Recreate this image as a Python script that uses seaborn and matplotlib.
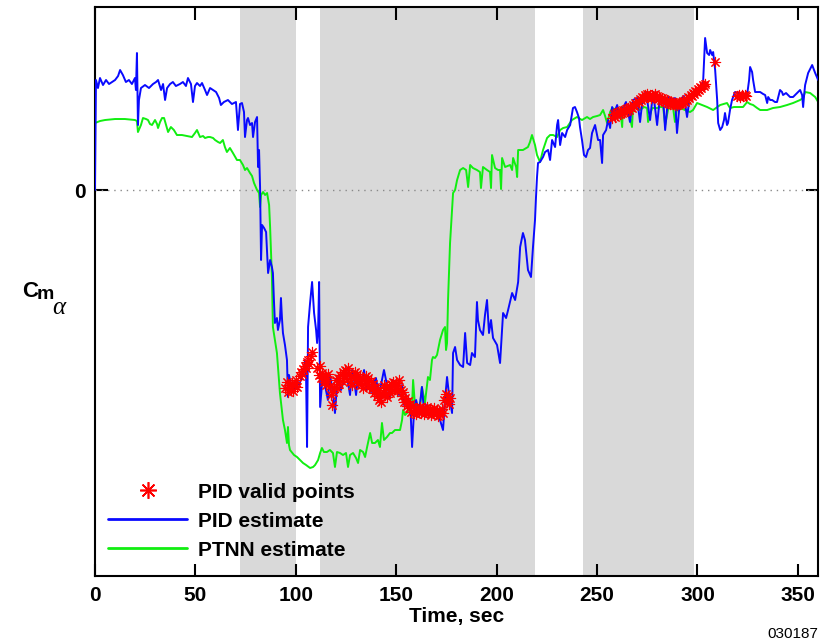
import numpy as np
import pandas as pd
import matplotlib
matplotlib.use("Agg")
import matplotlib.pyplot as plt
from matplotlib.lines import Line2D
import seaborn as sns

# ---------------- data ----------------
pid_t = [0.0, 0.5, 1.5, 2.5, 4.0, 5.5, 7.0, 8.5, 10.0, 11.5, 12.5, 13.9, 15.4, 16.9, 18.4, 19.9, 20.4, 20.9, 21.4, 21.9,
         22.9, 24.9, 26.9, 28.9, 30.4, 31.4, 32.9, 33.9, 34.9, 35.9, 37.4, 38.8, 40.3, 42.3, 43.8, 45.3, 46.3, 47.8, 48.8, 49.8,
         50.8, 52.3, 53.3, 54.8, 55.8, 57.3, 58.8, 60.3, 61.8, 62.7, 64.2, 66.2, 68.2, 70.2, 71.2, 72.2, 73.2, 74.2, 74.7, 75.7,
         76.2, 77.2, 78.2, 78.7, 79.7, 80.7, 81.2, 81.7, 82.2, 82.7, 83.2, 84.2, 85.2, 86.2, 87.2, 88.1, 88.6, 89.1, 89.6, 90.6,
         91.1, 92.1, 92.6, 93.1, 93.6, 94.6, 95.6, 96.1, 96.6, 97.6, 99.1, 100.6, 101.6, 103.1, 104.1, 104.6, 105.1, 105.6, 106.1, 107.1,
         108.1, 109.1, 110.1, 110.6, 111.1, 111.6, 112.1, 113.0, 113.5, 115.0, 116.0, 117.0, 118.5, 119.5, 120.5, 121.0, 122.5, 124.0, 125.0, 126.0,
         127.0, 128.0, 129.0, 130.0, 131.0, 132.5, 134.0, 135.0, 136.0, 137.5, 138.9, 139.9, 141.4, 142.9, 143.9, 145.4, 146.9, 148.4, 149.9, 151.4,
         152.9, 153.9, 154.9, 155.9, 156.9, 157.9, 158.9, 159.9, 161.4, 162.8, 163.8, 165.3, 166.8, 168.3, 170.3, 171.8, 173.3, 174.3, 175.3, 176.3,
         177.8, 178.3, 179.3, 180.3, 181.8, 183.3, 184.3, 185.3, 186.8, 187.7, 189.2, 190.2, 190.7, 191.7, 193.2, 194.2, 195.2, 196.2, 197.2, 198.2,
         200.2, 201.7, 203.2, 204.7, 205.7, 207.7, 209.2, 210.7, 211.7, 213.1, 214.1, 215.6, 217.1, 218.1, 219.1, 219.6, 220.1, 220.6, 221.6, 223.1,
         224.1, 225.6, 226.6, 227.6, 229.1, 230.1, 230.6, 231.6, 232.6, 234.1, 235.1, 236.6, 238.0, 239.0, 240.0, 241.0, 241.5, 242.5, 243.5, 244.5,
         245.5, 246.5, 247.5, 249.0, 250.5, 251.5, 252.5, 253.0, 254.5, 255.5, 256.5, 257.5, 258.5, 260.0, 261.5, 262.9, 264.4, 266.4, 267.9, 269.9,
         271.4, 272.9, 274.4, 276.4, 277.9, 279.9, 281.4, 282.9, 283.9, 285.4, 287.3, 288.8, 289.8, 291.3, 293.3, 294.8, 296.3, 297.8, 299.8, 301.3,
         302.8, 303.8, 304.8, 305.8, 306.3, 307.3, 307.8, 308.8, 309.8, 310.3, 311.3, 312.3, 313.2, 313.7, 314.7, 315.2, 316.2, 317.2, 318.7, 320.2,
         321.2, 323.2, 324.7, 325.7, 326.2, 327.2, 327.7, 328.7, 330.2, 331.2, 332.7, 333.7, 334.7, 335.2, 336.2, 337.2, 338.6, 339.6, 341.1, 342.1,
         342.6, 344.1, 345.1, 346.1, 347.6, 348.6, 349.6, 351.1, 352.1, 352.6, 353.1, 353.6, 355.1, 357.1, 358.6, 360.1]
pid_y = [0.00, 1.10, 1.02, 1.12, 1.05, 1.10, 1.06, 1.08, 1.10, 1.14, 1.20, 1.15, 1.08, 1.10, 1.06, 1.12, 1.00, 1.37, 0.65, 0.90,
         1.02, 1.05, 1.02, 1.06, 1.08, 1.10, 1.00, 1.06, 0.90, 1.02, 1.06, 1.08, 1.04, 1.06, 1.08, 1.04, 1.12, 1.06, 0.88, 1.04,
         1.07, 1.04, 1.07, 1.00, 0.95, 1.02, 1.00, 0.98, 0.92, 0.85, 0.88, 0.90, 0.86, 0.88, 0.60, 0.86, 0.87, 0.78, 0.53, 0.70,
         0.72, 0.65, 0.67, 0.53, 0.68, 0.73, 0.23, 0.40, 0.03, -0.70, -0.35, -0.38, -0.42, -0.83, -0.70, -0.77, -0.83, -1.10, -1.33, -1.28,
         -1.40, -1.30, -1.08, -1.28, -1.43, -1.55, -1.70, -2.07, -1.85, -1.95, -2.00, -1.90, -1.95, -1.87, -1.80, -1.70, -1.85, -2.57, -1.37, -1.13,
         -0.92, -1.23, -1.40, -1.53, -1.40, -0.92, -2.17, -1.95, -1.87, -2.00, -2.10, -1.85, -2.03, -2.23, -1.95, -1.87, -2.00, -1.90, -1.78, -1.93,
         -2.05, -1.80, -1.90, -2.05, -1.85, -1.95, -1.80, -2.00, -1.88, -2.02, -1.93, -1.88, -2.05, -1.90, -1.80, -1.95, -2.08, -1.90, -2.00, -2.05,
         -1.95, -2.15, -2.05, -2.18, -2.10, -2.57, -2.20, -2.10, -2.22, -1.97, -2.20, -2.15, -2.20, -2.20, -2.23, -2.30, -2.40, -2.10, -1.87, -2.05,
         -2.23, -1.63, -1.57, -1.70, -1.75, -1.77, -1.43, -1.73, -1.75, -1.63, -1.67, -1.12, -1.30, -1.40, -1.45, -1.25, -1.10, -1.43, -1.30, -1.48,
         -1.55, -1.73, -1.23, -1.28, -1.20, -1.03, -1.10, -0.92, -0.57, -0.43, -0.50, -0.80, -0.87, -0.57, -0.30, -0.07, 0.13, 0.27, 0.28, 0.33,
         0.38, 0.40, 0.30, 0.50, 0.43, 0.65, 0.70, 0.45, 0.57, 0.53, 0.60, 0.65, 0.82, 0.83, 0.78, 0.72, 0.63, 0.50, 0.35, 0.33,
         0.40, 0.42, 0.57, 0.65, 0.50, 0.50, 0.27, 0.55, 0.60, 0.70, 0.62, 0.83, 0.77, 0.85, 0.72, 0.82, 0.88, 0.68, 0.90, 0.92,
         0.68, 0.95, 0.98, 0.70, 0.98, 0.65, 0.95, 0.92, 0.60, 0.93, 0.90, 0.92, 0.57, 0.90, 0.94, 0.73, 0.95, 0.93, 0.98, 1.00,
         1.08, 1.52, 1.37, 1.35, 1.40, 1.35, 1.38, 1.20, 0.90, 0.67, 0.60, 0.63, 0.70, 0.77, 0.65, 0.67, 0.80, 0.90, 0.98, 0.97,
         0.97, 0.95, 0.95, 1.10, 1.23, 1.18, 1.10, 0.98, 0.98, 0.98, 0.96, 0.95, 0.87, 0.93, 0.90, 0.90, 0.88, 0.88, 1.00, 0.98,
         0.95, 0.97, 0.95, 0.93, 0.93, 0.95, 0.97, 1.00, 0.95, 0.83, 0.95, 1.05, 1.17, 1.25, 1.17, 1.10]

ptnn_t = [0.0, 2.5, 5.0, 10.0, 14.9, 19.9, 20.9, 21.4, 22.9, 23.9, 25.4, 26.4, 27.4, 28.4, 29.9, 30.9, 31.4, 32.4, 33.4, 34.4,
          35.4, 36.4, 37.8, 39.3, 40.8, 43.3, 45.8, 48.3, 49.8, 50.8, 52.3, 53.8, 54.8, 56.3, 57.3, 58.8, 59.8, 61.3, 62.3, 63.7,
          64.7, 65.7, 67.2, 68.7, 70.7, 72.2, 73.7, 74.7, 75.7, 77.2, 78.2, 79.2, 80.7, 81.7, 82.2, 82.7, 83.7, 84.7, 85.7, 86.7,
          87.2, 88.1, 88.6, 89.6, 90.6, 92.1, 93.6, 94.6, 95.6, 96.1, 96.6, 97.1, 99.1, 100.6, 102.1, 103.6, 105.1, 107.1, 108.6, 109.6,
          111.1, 112.1, 113.0, 114.0, 115.5, 117.0, 118.5, 119.5, 120.5, 122.0, 123.5, 125.0, 126.0, 127.0, 128.5, 130.0, 131.0, 132.0, 133.5, 134.5,
          135.5, 137.0, 138.0, 139.4, 140.9, 141.9, 142.9, 143.9, 145.4, 146.9, 147.9, 149.4, 150.9, 151.9, 152.9, 153.4, 154.4, 155.4, 156.9, 157.9,
          158.4, 159.4, 160.9, 161.9, 162.8, 164.3, 165.8, 166.8, 167.8, 168.3, 169.3, 170.3, 171.8, 173.3, 174.3, 174.8, 175.3, 175.8, 176.8, 177.8,
          178.3, 179.3, 180.3, 181.8, 183.3, 184.8, 185.8, 186.8, 188.2, 190.2, 191.7, 192.2, 193.2, 195.2, 196.7, 197.2, 197.7, 199.2, 200.7, 201.7,
          202.2, 202.7, 204.2, 206.7, 207.7, 208.2, 209.7, 210.2, 210.7, 213.1, 215.6, 216.6, 217.6, 219.1, 220.1, 221.6, 223.1, 225.1, 226.6, 228.1,
          230.1, 231.6, 233.1, 235.1, 237.5, 240.0, 242.5, 245.0, 246.5, 248.0, 250.0, 251.5, 253.0, 254.0, 255.0, 256.5, 257.5, 260.0, 261.5, 262.5,
          262.9, 265.4, 267.4, 267.9, 269.9, 271.4, 273.4, 274.9, 275.4, 277.4, 279.9, 281.4, 282.9, 283.9, 285.4, 287.8, 288.8, 289.8, 291.3, 293.8,
          296.3, 297.8, 299.8, 302.3, 304.8, 307.8, 311.3, 314.7, 316.2, 318.2, 319.7, 322.7, 324.7, 326.2, 327.7, 329.7, 331.2, 334.7, 337.6, 341.1,
          344.6, 347.6, 351.1, 352.6, 353.6, 356.1, 358.6, 360.1]
ptnn_y = [0.67, 0.69, 0.70, 0.71, 0.71, 0.70, 0.69, 0.58, 0.65, 0.72, 0.71, 0.70, 0.66, 0.65, 0.70, 0.66, 0.62, 0.68, 0.72, 0.72,
          0.65, 0.58, 0.63, 0.60, 0.55, 0.55, 0.54, 0.53, 0.57, 0.60, 0.53, 0.54, 0.52, 0.53, 0.53, 0.52, 0.50, 0.48, 0.47, 0.50,
          0.43, 0.38, 0.42, 0.37, 0.30, 0.30, 0.25, 0.20, 0.22, 0.17, 0.14, 0.07, 0.00, -0.03, -0.17, -0.05, -0.02, -0.05, -0.03, -0.15,
          -0.37, -0.87, -1.37, -1.50, -1.63, -2.03, -2.30, -2.40, -2.53, -2.37, -2.55, -2.60, -2.65, -2.67, -2.70, -2.73, -2.75, -2.78, -2.77, -2.75,
          -2.70, -2.63, -2.58, -2.62, -2.62, -2.60, -2.63, -2.77, -2.62, -2.63, -2.65, -2.63, -2.77, -2.65, -2.63, -2.68, -2.73, -2.60, -2.62, -2.67,
          -2.57, -2.43, -2.53, -2.53, -2.50, -2.57, -2.33, -2.50, -2.47, -2.43, -2.43, -2.40, -2.40, -2.40, -2.30, -2.20, -2.25, -2.23, -2.17, -2.15,
          -1.90, -2.17, -2.15, -2.15, -1.97, -2.13, -1.87, -1.90, -1.70, -1.67, -1.68, -1.65, -1.50, -1.40, -1.37, -1.60, -1.53, -1.10, -0.53, -0.20,
          -0.03, 0.00, 0.10, 0.20, 0.22, 0.20, 0.03, 0.25, 0.22, 0.20, 0.18, 0.02, 0.23, 0.20, 0.18, 0.02, 0.35, 0.22, 0.20, 0.20,
          0.01, 0.32, 0.23, 0.25, 0.20, 0.32, 0.23, 0.13, 0.40, 0.40, 0.43, 0.48, 0.55, 0.45, 0.35, 0.28, 0.40, 0.52, 0.55, 0.55,
          0.53, 0.60, 0.62, 0.63, 0.70, 0.73, 0.70, 0.73, 0.71, 0.73, 0.74, 0.75, 0.80, 0.74, 0.67, 0.78, 0.82, 0.80, 0.81, 0.63,
          0.83, 0.81, 0.63, 0.83, 0.81, 0.80, 0.83, 0.82, 0.68, 0.82, 0.82, 0.83, 0.83, 0.65, 0.81, 0.83, 0.68, 0.82, 0.82, 0.80,
          0.78, 0.80, 0.87, 0.85, 0.83, 0.80, 0.85, 0.87, 0.82, 0.83, 0.83, 0.83, 0.88, 0.86, 0.85, 0.82, 0.80, 0.80, 0.82, 0.83,
          0.85, 0.87, 0.90, 0.92, 0.98, 0.97, 0.93, 0.88]

valid_t = [94.8, 95.5, 96.2, 96.8, 97.5, 98.2, 98.8, 99.5, 100.2, 100.8,
           102.0, 102.6, 103.2, 103.8, 104.4, 105.0, 105.6, 106.2, 106.8, 107.4, 108.0,
           110.8, 111.4, 112.0, 112.6, 113.2, 113.8, 114.4, 115.0, 115.6, 116.2, 116.8, 117.4, 118.0, 118.6, 119.2, 119.8,
           120.4, 121.0, 121.6, 122.2, 122.8, 123.4, 124.0, 124.6, 125.2, 125.8, 126.4, 127.0, 127.6, 128.2, 128.8, 129.4,
           130.0, 130.6, 131.2, 131.8, 132.4, 133.0, 133.6, 134.2, 134.8, 135.4, 136.0, 136.6, 137.2, 137.8, 138.4, 139.0,
           139.6, 140.2, 140.8, 141.4, 142.0, 142.6, 143.2, 143.8, 144.4, 145.0, 145.6, 146.2, 146.8, 147.4, 148.0, 148.6,
           149.2, 149.8, 150.4, 151.0, 151.6, 152.2, 152.8, 153.4, 154.0, 154.6, 155.2, 155.8, 156.4, 157.0, 157.6, 158.2,
           158.8, 159.4, 160.0, 160.6, 161.2, 161.8, 162.4, 163.0, 163.6, 164.2, 164.8, 165.4, 166.0, 166.6, 167.2, 167.8,
           168.4, 169.0, 169.6, 170.2, 170.8, 171.4, 172.0, 172.6, 173.2, 174.0, 174.6, 175.2, 175.8, 176.4, 177.0,
           257.6, 258.2, 258.8, 259.4, 260.0, 260.6, 261.2, 261.8, 262.4, 263.0, 263.6, 264.2, 264.8, 265.4, 266.0, 266.6,
           267.2, 267.8, 268.4, 269.0, 269.6, 270.2, 270.8, 271.4, 272.0, 272.6, 273.2, 273.8, 274.4, 275.0, 275.6, 276.2,
           276.8, 277.4, 278.0, 278.6, 279.2, 279.8, 280.4, 281.0, 281.6, 282.2, 282.8, 283.4, 284.0, 284.6, 285.2, 285.8,
           286.4, 287.0, 287.6, 288.2, 288.8, 289.4, 290.0, 290.6, 291.2, 291.8, 292.4, 293.0, 293.6, 294.2, 294.8, 295.4,
           296.0, 296.6, 297.2, 297.8, 298.4, 299.0, 299.6, 300.2, 300.8, 301.4, 302.0, 302.6, 303.2, 303.8,
           308.8,
           319.8, 320.5, 321.2, 322.0, 322.8, 323.6, 324.2]
valid_y = [-1.98, -1.92, -2.02, -1.95, -1.99, -1.93, -2.01, -1.96, -1.90, -1.97,
           -1.86, -1.82, -1.84, -1.79, -1.76, -1.78, -1.72, -1.70, -1.74, -1.66, -1.62,
           -1.78, -1.85, -1.76, -1.88, -1.83, -1.92, -1.86, -1.95, -1.90, -1.84, -1.96, -2.05, -2.15, -2.02, -1.97, -1.90,
           -1.98, -1.88, -1.94, -1.85, -1.91, -1.82, -1.88, -1.80, -1.86, -1.78, -1.84, -1.92, -1.86, -1.95, -1.88, -1.82,
           -1.90, -1.84, -1.93, -1.87, -1.95, -1.89, -1.98, -1.90, -1.86, -1.94, -1.88, -1.97, -1.91, -1.99, -1.94, -2.03,
           -1.97, -2.06, -2.00, -2.10, -2.04, -2.12, -2.02, -1.95, -2.05, -1.98, -2.07, -1.96, -2.03, -1.94, -2.00, -1.92,
           -1.99, -1.93, -2.01, -1.95, -1.90, -2.00, -2.06, -2.02, -2.12, -2.08, -2.16, -2.11, -2.18, -2.14, -2.22, -2.17,
           -2.23, -2.18, -2.24, -2.19, -2.22, -2.17, -2.23, -2.19, -2.24, -2.18, -2.22, -2.17, -2.23, -2.19, -2.25, -2.20,
           -2.23, -2.18, -2.24, -2.21, -2.26, -2.21, -2.25, -2.19, -2.23, -2.10, -2.04, -2.12, -2.06, -2.14, -2.08,
           0.72, 0.76, 0.73, 0.77, 0.75, 0.78, 0.76, 0.79, 0.77, 0.80, 0.78, 0.81, 0.79, 0.82, 0.80, 0.83,
           0.82, 0.85, 0.84, 0.87, 0.86, 0.89, 0.88, 0.91, 0.90, 0.93, 0.92, 0.95, 0.93, 0.96, 0.93, 0.95,
           0.92, 0.95, 0.93, 0.96, 0.93, 0.94, 0.91, 0.93, 0.90, 0.92, 0.89, 0.91, 0.88, 0.90, 0.87, 0.89,
           0.86, 0.88, 0.86, 0.87, 0.85, 0.87, 0.85, 0.87, 0.86, 0.88, 0.87, 0.89, 0.88, 0.91, 0.90, 0.93,
           0.92, 0.95, 0.94, 0.97, 0.96, 0.99, 0.98, 1.01, 1.00, 1.03, 1.02, 1.05, 1.04, 1.06,
           1.28,
           0.94, 0.95, 0.93, 0.95, 0.94, 0.95, 0.94]

shaded_spans = [(72.2, 100.1), (112.1, 219.1), (243.0, 298.3)]
x_ticks = [0, 50, 100, 150, 200, 250, 300, 350]

# ---------------- style ----------------
sns.set_theme(style="ticks")
plt.rcParams["font.family"] = ["Liberation Sans", "DejaVu Sans"]
for key in ["text.color", "axes.labelcolor", "xtick.color", "ytick.color", "axes.edgecolor"]:
    plt.rcParams[key] = "black"

BLUE = "#0a0aff"
GREEN = "#11ee11"
RED = "#ff0000"

fig = plt.figure(figsize=(8.23, 6.44), dpi=100)
ax = fig.add_axes([0.1154, 0.1056, 0.8785, 0.8835])

for a, b in shaded_spans:
    ax.axvspan(a, b, color="#d9d9d9", lw=0, zorder=0)
ax.axhline(0, color="#8a8a8a", lw=1.0, ls=(0, (1, 3.5)), zorder=1)

df_pid = pd.DataFrame({"t": pid_t, "y": pid_y})
df_ptnn = pd.DataFrame({"t": ptnn_t, "y": ptnn_y})
df_valid = pd.DataFrame({"t": valid_t, "y": valid_y})

sns.lineplot(data=df_pid, x="t", y="y", sort=False, estimator=None, color=BLUE, lw=1.4, ax=ax, zorder=3)
sns.lineplot(data=df_ptnn, x="t", y="y", sort=False, estimator=None, color=GREEN, lw=1.4, ax=ax, zorder=2)
sns.scatterplot(data=df_valid, x="t", y="y", marker=(8, 2, 0), s=55, color=RED, edgecolor=RED,
                linewidth=0.8, ax=ax, zorder=4)

ax.set_xlim(0, 360)
ax.set_ylim(-3.86, 1.83)
ax.set_xticks(x_ticks)
ax.set_xticklabels([str(v) for v in x_ticks])
ax.set_yticks([0])
ax.set_yticklabels(["0"])
ax.tick_params(axis="both", direction="in", length=9, width=1.5, color="black",
               top=True, right=True, labelsize=15, pad=7, labelcolor="black")
for lab in ax.get_xticklabels() + ax.get_yticklabels():
    lab.set_fontweight("bold")
for sp in ax.spines.values():
    sp.set_linewidth(1.5)
    sp.set_color("black")

ax.set_xlabel("Time, sec", fontsize=15, fontweight="bold", labelpad=2, color="black")
ax.set_ylabel("")

# y-axis label C_m_alpha built from three pieces
fig.text(0.0267, 0.5388, "C", fontsize=16, fontweight="bold", ha="left", va="baseline")
fig.text(0.0450, 0.5355, "m", fontsize=14, fontweight="bold", ha="left", va="baseline")
fig.text(0.0640, 0.5130, "\u03b1", fontsize=18, family=["Liberation Serif", "DejaVu Serif"],
         style="italic", ha="left", va="baseline")

fig.text(0.994, 0.004, "030187", fontsize=11, ha="right", va="bottom")

handles = [
    Line2D([], [], ls="", marker=(8, 2, 0), markersize=12, markeredgewidth=1.2, color=RED),
    Line2D([], [], color=BLUE, lw=2),
    Line2D([], [], color=GREEN, lw=2),
]
labels = ["PID valid points", "PID estimate", "PTNN estimate"]
leg = ax.legend(handles, labels, loc="lower left", bbox_to_anchor=(0.0069, 0.014), frameon=False,
                handlelength=3.8, handletextpad=0.5, labelspacing=0.48,
                prop={"size": 15, "weight": "bold"}, borderaxespad=0.0)

fig.savefig("out.png", dpi=100)
